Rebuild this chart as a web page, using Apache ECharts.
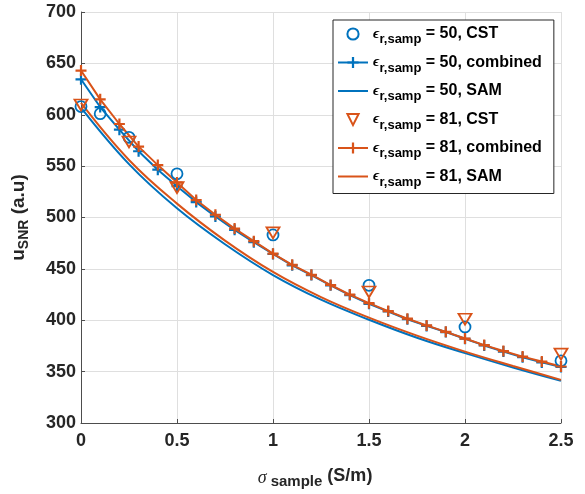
<!DOCTYPE html>
<html>
<head>
<meta charset="utf-8">
<script src="https://cdn.jsdelivr.net/npm/echarts@6/dist/echarts.min.js"></script>
<style>html,body{margin:0;padding:0;background:#fff}#c{width:585px;height:494px}</style>
</head>
<body>
<div id="c"></div>
<script>
// ---- data ----
const legendNames = ['= 50, CST', '= 50, combined', '= 50, SAM', '= 81, CST', '= 81, combined', '= 81, SAM'];
const xTicks = [0, 0.5, 1, 1.5, 2, 2.5];
const yTicks = [300, 350, 400, 450, 500, 550, 600, 650, 700];

const xCST50 = [0, 0.1, 0.25, 0.5, 1, 1.5, 2, 2.5];
const cst50 = [608, 601, 578, 542.5, 483, 434, 393.5, 360.5];
const xCST81 = [0, 0.25, 0.5, 1, 1.5, 2, 2.5];
const cst81 = [609.5, 573.5, 529, 485, 427.5, 401, 367];

const xCombined = [0, 0.1, 0.2, 0.3, 0.4, 0.5, 0.6, 0.7, 0.8, 0.9, 1.0, 1.1, 1.2, 1.3, 1.4, 1.5, 1.6, 1.7, 1.8, 1.9, 2.0, 2.1, 2.2, 2.3, 2.4, 2.5];
const combined50 = [634.5, 607.5, 585.5, 564.5, 546.5, 530.5, 515, 501, 488, 476, 464.5, 453.5, 444, 434, 424.5, 416, 408.5, 401, 394.5, 388.5, 382, 375.5, 369.5, 364, 359, 354.5];
const combined81 = [643, 615, 591, 569, 551, 534, 517, 502.7, 489.2, 477, 464.8, 454, 444.3, 434.3, 425, 416.6, 408.9, 401.5, 395, 388.7, 382.2, 375.8, 370, 364.6, 359.8, 355];

const xSAM = [0, 0.25, 0.5, 0.75, 1.0, 1.25, 1.5, 1.75, 2.0, 2.25, 2.5];
const sam50 = [607, 552, 509, 474, 444, 420, 400.5, 383, 368, 354, 341];
const sam81 = [611.5, 556, 513.5, 477.5, 447, 422.5, 402.5, 385, 369.5, 355.5, 342];

// ---- styling ----
const BLUE = '#0072BD', ORANGE = '#D95319';
const PLUS = 'path://M4,0H6V4H10V6H6V10H4V6H0V4H4Z';
const pairs = (xs, ys) => xs.map((x, i) => [x, ys[i]]);

const chart = echarts.init(document.getElementById('c'), null, {renderer: 'canvas'});
const tickFont = {color: '#262626', fontFamily: 'Liberation Sans', fontWeight: 'bold', fontSize: 18};

chart.setOption({
  animation: false,
  backgroundColor: '#fff',
  grid: {left: 81, right: 24, top: 12, bottom: 67, containLabel: false},
  xAxis: {
    type: 'value', min: xTicks[0], max: xTicks[xTicks.length - 1], interval: 0.5,
    axisLine: {onZero: false, lineStyle: {color: '#4d4d4d', width: 1}},
    axisTick: {inside: true, length: 4, lineStyle: {color: '#4d4d4d'}},
    splitLine: {show: true, lineStyle: {color: '#dfdfdf', width: 1}},
    axisLabel: Object.assign({margin: 9}, tickFont),
    name: '{sig|σ}{sub| sample}{t| (S/m)}',
    nameLocation: 'middle', nameGap: 44,
    nameTextStyle: {padding: [0, 12, 0, 0], rich: {
      sig: {fontFamily: 'Liberation Serif', fontStyle: 'italic', fontSize: 18, color: '#262626', verticalAlign: 'middle', lineHeight: 22},
      sub: {fontFamily: 'Liberation Sans', fontWeight: 'bold', fontSize: 15, color: '#262626', verticalAlign: 'bottom', lineHeight: 22},
      t: {fontFamily: 'Liberation Sans', fontWeight: 'bold', fontSize: 18, color: '#262626', verticalAlign: 'top', lineHeight: 22}
    }}
  },
  yAxis: {
    type: 'value', min: yTicks[0], max: yTicks[yTicks.length - 1], interval: 50,
    axisLine: {show: true, lineStyle: {color: '#4d4d4d', width: 1}},
    axisTick: {show: true, inside: true, length: 4, lineStyle: {color: '#4d4d4d'}},
    splitLine: {show: true, lineStyle: {color: '#dfdfdf', width: 1}},
    axisLabel: Object.assign({margin: 5}, tickFont),
    name: '{u|u}{s|SNR}{t| (a.u)}',
    nameLocation: 'middle', nameRotate: 90, nameGap: 50,
    nameTextStyle: {rich: {
      u: {fontFamily: 'Liberation Sans', fontWeight: 'bold', fontSize: 19, color: '#262626', verticalAlign: 'middle', lineHeight: 24},
      s: {fontFamily: 'Liberation Sans', fontWeight: 'bold', fontSize: 14, color: '#262626', verticalAlign: 'bottom', lineHeight: 24},
      t: {fontFamily: 'Liberation Sans', fontWeight: 'bold', fontSize: 19, color: '#262626', verticalAlign: 'middle', lineHeight: 24}
    }}
  },
  legend: {
    orient: 'vertical', left: 333, top: 20, align: 'left',
    padding: [6, 12, 5, 4],
    itemWidth: 30, itemHeight: 14, itemGap: 8.5,
    backgroundColor: '#fff', borderColor: '#262626', borderWidth: 1,
    data: legendNames,
    formatter: n => '{e|ϵ}{s|r,samp}{t| ' + n + '}',
    textStyle: {
      color: '#000', fontFamily: 'Liberation Sans', fontWeight: 'bold', fontSize: 16,
      rich: {
        e: {fontFamily: 'Liberation Serif', fontStyle: 'italic', fontSize: 15, color: '#000', verticalAlign: 'middle', lineHeight: 24},
        s: {fontFamily: 'Liberation Sans', fontWeight: 'bold', fontSize: 13, color: '#000', verticalAlign: 'bottom', lineHeight: 24},
        t: {fontFamily: 'Liberation Sans', fontWeight: 'bold', fontSize: 16, color: '#000', verticalAlign: 'middle', lineHeight: 24}
      }
    }
  },
  series: [
    {name: legendNames[0], type: 'line', data: pairs(xCST50, cst50), symbol: 'circle', symbolSize: 11, showAllSymbol: true,
     lineStyle: {width: 0, opacity: 0}, itemStyle: {color: 'rgba(0,0,0,0)', borderColor: BLUE, borderWidth: 1.8}, z: 3},
    {name: legendNames[1], type: 'line', data: pairs(xCombined, combined50), symbol: PLUS, symbolSize: 11, showAllSymbol: true,
     lineStyle: {color: BLUE, width: 2}, itemStyle: {color: BLUE}, z: 2},
    {name: legendNames[2], type: 'line', data: pairs(xSAM, sam50), symbol: 'circle', showSymbol: false, smooth: 0.4,
     lineStyle: {color: BLUE, width: 2}, itemStyle: {color: BLUE, opacity: 0}, z: 2},
    {name: legendNames[3], type: 'line', data: pairs(xCST81, cst81), symbol: 'triangle', symbolSize: [13, 11], symbolRotate: 180, showAllSymbol: true,
     lineStyle: {width: 0, opacity: 0}, itemStyle: {color: 'rgba(0,0,0,0)', borderColor: ORANGE, borderWidth: 1.8}, z: 4},
    {name: legendNames[4], type: 'line', data: pairs(xCombined, combined81), symbol: PLUS, symbolSize: 11, showAllSymbol: true,
     lineStyle: {color: ORANGE, width: 2}, itemStyle: {color: ORANGE}, z: 3},
    {name: legendNames[5], type: 'line', data: pairs(xSAM, sam81), symbol: 'circle', showSymbol: false, smooth: 0.4,
     lineStyle: {color: ORANGE, width: 2}, itemStyle: {color: ORANGE, opacity: 0}, z: 3}
  ]
});
</script>
</body>
</html>
